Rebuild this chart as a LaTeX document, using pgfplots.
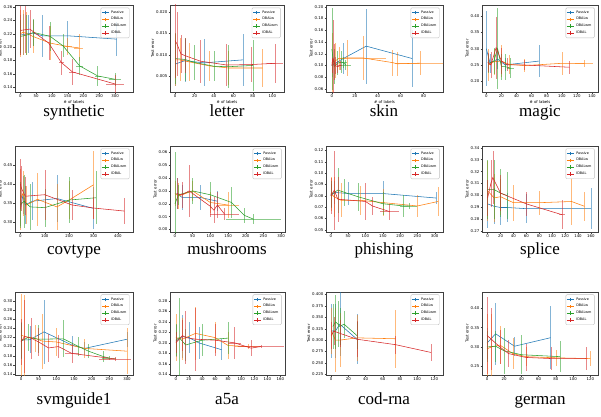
\documentclass[border=0pt]{standalone}
\usepackage{pgfplots}
\pgfplotsset{compat=1.18}
\usepackage{fontspec}
\setmainfont{Liberation Serif}
\newfontfamily\dv{DejaVu Sans}
\newcommand\tickf{\dv\fontsize{3.9}{4.5}\selectfont}
\newcommand\legf{\dv\fontsize{3.4}{4}\selectfont}
\newcommand\capf{\fontsize{17}{20}\selectfont}
\definecolor{c1}{HTML}{1F77B4}
\definecolor{c2}{HTML}{FF7F0E}
\definecolor{c3}{HTML}{2CA02C}
\definecolor{c4}{HTML}{D62728}
\pgfplotsset{
  sub/.style={
    scale only axis,
    anchor=south west,
    scaled ticks=false,
    axis line style={black!75, line width=0.35pt},
    tick align=outside, tick pos=left,
    major tick length=1.5pt,
    every tick/.style={black!75, line width=0.3pt},
    tick label style={font=\tickf},
    /pgf/number format/assume math mode=true,
    xticklabel style={inner sep=1pt},
    yticklabel style={inner sep=1pt},
    label style={font=\tickf},
    ylabel={Test error},
    ylabel style={yshift=-2.5pt},
    xlabel={\# of labels},
    xlabel style={yshift=2pt},
    legend style={at={(0.97,0.97)}, anchor=north east, font=\legf,
      draw=black!25, rounded corners=1pt, inner sep=0.8pt, row sep=-1.2pt,
      fill=white, fill opacity=0.8, text opacity=1},
    legend cell align=left,
    legend image code/.code={\draw[##1] (0pt,0pt) -- (7pt,0pt); \draw[##1] (3.5pt,-1.8pt) -- (3.5pt,1.8pt);},
  },
  nox/.style={xlabel={}},
  ser/.style={color=#1, line width=0.55pt, mark=none,
    error bars/.cd, y dir=both, y explicit, x dir=both, x explicit, error mark=none,
    error bar style={line width=0.45pt, opacity=0.55}},
}
\begin{document}
\begin{tikzpicture}
\path[use as bounding box] (0pt,0pt) rectangle (601pt,416pt);
% ---------------- synthetic
\begin{axis}[sub, at={(15pt,324pt)}, width=118pt, height=87pt,
  xmin=-17, xmax=357, ymin=0.133, ymax=0.263,
  xtick={0,50,...,300},
  ytick={0.14,0.16,0.18,0.20,0.22,0.24,0.26}, yticklabels={0.14,0.16,0.18,0.20,0.22,0.24,0.26}]
\addplot[ser=c1] coordinates {(0,0.218) +- (0,0.03) (10,0.219) +- (0,0.03) (25,0.220) +- (0,0.028) (40,0.221) +- (0,0.02) (70,0.217) +- (0,0.031) (150,0.217) +- (0,0.022) (305,0.212) +- (0,0.025)};
\addplot[ser=c2] coordinates {(0,0.220) +- (0,0.035) (8,0.222) +- (0,0.033) (18,0.221) +- (0,0.032) (40,0.216) +- (0,0.025) (95,0.206) +- (0,0.025) (150,0.201) +- (15,0.012) (185,0.199) +- (15,0.02)};
\addplot[ser=c3] coordinates {(0,0.216) +- (0,0.025) (20,0.218) +- (0,0.03) (42,0.222) +- (0,0.02) (95,0.216) +- (0,0.022) (135,0.202) +- (0,0.017) (188,0.172) +- (12,0.013) (245,0.157) +- (10,0.015) (300,0.152) +- (20,0.01)};
\addplot[ser=c4] coordinates {(0,0.225) +- (0,0.036) (15,0.226) +- (0,0.035) (30,0.227) +- (0,0.028) (90,0.206) +- (0,0.025) (130,0.177) +- (8,0.018) (165,0.163) +- (10,0.02) (300,0.145) +- (30,0.013)};
\legend{Passive,DBALw,DBALwm,IDBAL}
\end{axis}
% ---------------- letter
\begin{axis}[sub, at={(170pt,324pt)}, width=114pt, height=87pt,
  xmin=-5.2, xmax=112, ymin=0.0013, ymax=0.0216,
  xtick={0,20,...,100},
  ytick={0.005,0.010,0.015,0.020}, yticklabels={0.005,0.010,0.015,0.020}]
\addplot[ser=c1] coordinates {(0,0.0078) +- (0,0.005) (10,0.0086) +- (0,0.005) (30,0.0081) +- (0,0.0055) (70,0.0088) +- (0,0.006)};
\addplot[ser=c2] coordinates {(0,0.0088) +- (0,0.006) (5,0.0088) +- (0,0.005) (15,0.0083) +- (0,0.0045) (35,0.0074) +- (0,0.0035) (55,0.0069) +- (0,0.004) (90,0.0069) +- (0,0.0045)};
\addplot[ser=c3] coordinates {(0,0.0091) +- (0,0.006) (10,0.0089) +- (0,0.005) (20,0.0082) +- (0,0.004) (40,0.0073) +- (0,0.0035) (55,0.0072) +- (0,0.005) (80,0.0075) +- (0,0.006)};
\addplot[ser=c4] coordinates {(0,0.0133) +- (0,0.0088) (2,0.0125) +- (0,0.0075) (6,0.0102) +- (0,0.0045) (10,0.0098) +- (0,0.004) (26,0.0085) +- (0,0.005) (53,0.0076) +- (0,0.005) (78,0.0077) +- (0,0.004) (103,0.0080) +- (8,0.0046)};
\legend{Passive,DBALw,DBALwm,IDBAL}
\end{axis}
% ---------------- skin
\begin{axis}[sub, at={(326pt,324pt)}, width=117pt, height=87pt,
  xmin=-5.1, xmax=97, ymin=0.055, ymax=0.203,
  xtick={0,20,...,80},
  ytick={0.06,0.08,0.10,0.12,0.14,0.16,0.18,0.20}, yticklabels={0.06,0.08,0.10,0.12,0.14,0.16,0.18,0.20}]
\addplot[ser=c1] coordinates {(0,0.100) +- (0,0.02) (10,0.112) +- (0,0.027) (30,0.133) +- (0,0.064) (70,0.112) +- (0,0.048)};
\addplot[ser=c2] coordinates {(0,0.105) +- (0,0.05) (3,0.108) +- (0,0.03) (6,0.112) +- (0,0.02) (13,0.113) +- (0,0.03) (27,0.113) +- (20,0.038) (53,0.105) +- (0,0.022) (57,0.103) +- (0,0.02) (77,0.104) +- (22,0.02)};
\addplot[ser=c3] coordinates {(0,0.128) +- (0,0.07) (2,0.098) +- (0,0.03) (5,0.104) +- (0,0.02) (8,0.106) +- (0,0.018) (10,0.105) +- (3,0.01) (12,0.101) +- (5,0.008)};
\addplot[ser=c4] coordinates {(0,0.100) +- (0,0.012) (1,0.112) +- (0,0.065) (2,0.106) +- (0,0.03) (3,0.100) +- (0,0.015) (5,0.098) +- (0,0.01) (7,0.100) +- (2,0.008)};
\legend{Passive,DBALw,DBALwm,IDBAL}
\end{axis}
% ---------------- magic
\begin{axis}[sub, at={(482pt,324pt)}, width=116pt, height=87pt,
  xmin=-5.7, xmax=148, ymin=0.167, ymax=0.434,
  xtick={0,20,...,140},
  ytick={0.20,0.25,0.30,0.35,0.40}, yticklabels={0.20,0.25,0.30,0.35,0.40}]
\addplot[ser=c1] coordinates {(0,0.300) +- (0,0.116) (5,0.255) +- (0,0.03) (15,0.268) +- (0,0.03) (25,0.250) +- (0,0.02) (70,0.262) +- (0,0.05)};
\addplot[ser=c2] coordinates {(3,0.250) +- (0,0.05) (10,0.260) +- (0,0.04) (20,0.262) +- (0,0.05) (30,0.252) +- (0,0.03) (50,0.248) +- (0,0.02) (100,0.255) +- (0,0.035) (130,0.255) +- (12,0.01)};
\addplot[ser=c3] coordinates {(3,0.255) +- (0,0.03) (10,0.262) +- (0,0.04) (15,0.300) +- (0,0.125) (20,0.245) +- (0,0.04) (25,0.245) +- (0,0.04) (32,0.240) +- (5,0.03)};
\addplot[ser=c4] coordinates {(2,0.258) +- (0,0.03) (6,0.250) +- (0,0.04) (13,0.303) +- (0,0.095) (20,0.262) +- (0,0.04) (28,0.250) +- (0,0.02) (50,0.250) +- (0,0.015) (110,0.243) +- (0,0.02)};
\legend{Passive,DBALw,DBALwm,IDBAL}
\end{axis}
% ---------------- covtype
\begin{axis}[sub, nox, at={(15pt,184pt)}, width=118pt, height=86pt,
  xmin=-22, xmax=462, ymin=0.274, ymax=0.50,
  xtick={0,100,...,400},
  ytick={0.30,0.35,0.40,0.45}, yticklabels={0.30,0.35,0.40,0.45}]
\addplot[ser=c1] coordinates {(0,0.330) +- (0,0.04) (10,0.370) +- (0,0.05) (20,0.345) +- (0,0.05) (50,0.355) +- (0,0.05) (150,0.362) +- (0,0.062) (300,0.336) +- (0,0.055)};
\addplot[ser=c2] coordinates {(0,0.360) +- (0,0.08) (10,0.375) +- (0,0.06) (25,0.345) +- (0,0.05) (70,0.360) +- (0,0.07) (150,0.340) +- (0,0.06) (200,0.358) +- (0,0.05) (300,0.398) +- (0,0.09)};
\addplot[ser=c3] coordinates {(0,0.345) +- (0,0.06) (15,0.355) +- (0,0.07) (40,0.340) +- (0,0.06) (100,0.338) +- (0,0.05) (200,0.358) +- (0,0.06) (310,0.364) +- (0,0.07)};
\addplot[ser=c4] coordinates {(0,0.400) +- (0,0.065) (5,0.388) +- (0,0.06) (20,0.368) +- (0,0.05) (100,0.372) +- (0,0.066) (212,0.345) +- (0,0.04) (300,0.337) +- (0,0.03) (427,0.329) +- (0,0.035)};
\legend{Passive,DBALw,DBALwm,IDBAL}
\end{axis}
% ---------------- mushrooms
\begin{axis}[sub, nox, at={(170pt,184pt)}, width=115pt, height=86pt,
  xmin=-14, xmax=311, ymin=-0.002, ymax=0.065,
  xtick={0,50,...,300},
  ytick={0,0.01,0.02,0.03,0.04,0.05,0.06}, yticklabels={0.00,0.01,0.02,0.03,0.04,0.05,0.06}]
\addplot[ser=c1] coordinates {(5,0.028) +- (0,0.012) (20,0.025) +- (0,0.01) (70,0.025) +- (0,0.01) (120,0.022) +- (0,0.008)};
\addplot[ser=c2] coordinates {(0,0.028) +- (0,0.01) (10,0.026) +- (0,0.01) (50,0.030) +- (0,0.008) (100,0.021) +- (0,0.008) (150,0.019) +- (30,0.01)};
\addplot[ser=c3] coordinates {(0,0.020) +- (0,0.04) (10,0.027) +- (0,0.008) (50,0.030) +- (0,0.01) (100,0.027) +- (0,0.01) (160,0.021) +- (0,0.012) (196,0.011) +- (0,0.006) (222,0.008) +- (78,0.004)};
\addplot[ser=c4] coordinates {(5,0.028) +- (0,0.012) (20,0.027) +- (0,0.01) (40,0.030) +- (0,0.02) (100,0.018) +- (0,0.008) (110,0.015) +- (0,0.01) (120,0.019) +- (0,0.01) (140,0.012) +- (40,0.005)};
\legend{Passive,DBALw,DBALwm,IDBAL}
\end{axis}
% ---------------- phishing
\begin{axis}[sub, nox, at={(326pt,184pt)}, width=117pt, height=86pt,
  xmin=-14, xmax=324, ymin=0.048, ymax=0.124,
  xtick={0,50,...,300},
  ytick={0.05,0.06,0.07,0.08,0.09,0.10,0.11,0.12}, yticklabels={0.05,0.06,0.07,0.08,0.09,0.10,0.11,0.12}]
\addplot[ser=c1] coordinates {(0,0.080) +- (0,0.01) (10,0.083) +- (0,0.01) (50,0.082) +- (0,0.01) (150,0.082) +- (0,0.011) (305,0.078) +- (0,0.005)};
\addplot[ser=c2] coordinates {(0,0.082) +- (0,0.015) (10,0.079) +- (0,0.018) (30,0.076) +- (0,0.015) (85,0.076) +- (0,0.013) (150,0.074) +- (0,0.012) (250,0.071) +- (0,0.01) (310,0.075) +- (0,0.013)};
\addplot[ser=c3] coordinates {(0,0.081) +- (0,0.012) (20,0.085) +- (0,0.02) (40,0.083) +- (0,0.012) (80,0.079) +- (0,0.012) (150,0.073) +- (0,0.01) (210,0.071) +- (0,0.01) (225,0.071) +- (25,0.003)};
\addplot[ser=c4] coordinates {(0,0.080) +- (0,0.016) (10,0.085) +- (0,0.035) (20,0.077) +- (0,0.02) (100,0.075) +- (0,0.016) (120,0.071) +- (0,0.008) (170,0.066) +- (28,0.007)};
\legend{Passive,DBALw,DBALwm,IDBAL}
\end{axis}
% ---------------- splice
\begin{axis}[sub, nox, at={(482pt,184pt)}, width=116pt, height=86pt,
  xmin=-8.7, xmax=171, ymin=0.2695, ymax=0.3414,
  xtick={0,20,...,160},
  ytick={0.27,0.28,0.29,0.30,0.31,0.32,0.33,0.34}, yticklabels={0.27,0.28,0.29,0.30,0.31,0.32,0.33,0.34}]
\addplot[ser=c1] coordinates {(0,0.293) +- (0,0.02) (10,0.291) +- (0,0.015) (20,0.290) +- (0,0.015) (30,0.290) +- (0,0.012) (60,0.289) +- (0,0.012) (160,0.289) +- (0,0.017)};
\addplot[ser=c2] coordinates {(0,0.304) +- (0,0.025) (10,0.298) +- (0,0.02) (20,0.299) +- (0,0.015) (40,0.294) +- (0,0.015) (80,0.294) +- (0,0.01) (130,0.295) +- (0,0.02) (150,0.291) +- (0,0.012)};
\addplot[ser=c3] coordinates {(0,0.305) +- (0,0.025) (10,0.305) +- (0,0.025) (20,0.302) +- (0,0.02) (30,0.300) +- (0,0.02)};
\addplot[ser=c4] coordinates {(0,0.298) +- (0,0.015) (5,0.310) +- (0,0.02) (8,0.315) +- (0,0.022) (20,0.302) +- (0,0.015) (60,0.293) +- (0,0.01) (115,0.284) +- (5,0.012)};
\legend{Passive,DBALw,DBALwm,IDBAL}
\end{axis}
% ---------------- svmguide1
\begin{axis}[sub, nox, at={(15pt,41pt)}, width=118pt, height=83pt,
  xmin=-17, xmax=317, ymin=0.138, ymax=0.319,
  xtick={0,50,...,300},
  ytick={0.14,0.16,0.18,0.20,0.22,0.24,0.26,0.28,0.30}, yticklabels={0.14,0.16,0.18,0.20,0.22,0.24,0.26,0.28,0.30}]
\addplot[ser=c1] coordinates {(0,0.214) +- (0,0.04) (25,0.215) +- (0,0.03) (65,0.232) +- (0,0.07) (145,0.203) +- (0,0.02) (180,0.196) +- (0,0.015) (300,0.216) +- (0,0.016)};
\addplot[ser=c2] coordinates {(0,0.225) +- (0,0.09) (10,0.222) +- (0,0.09) (40,0.218) +- (0,0.03) (60,0.212) +- (0,0.06) (100,0.210) +- (0,0.03) (180,0.196) +- (0,0.02) (300,0.190) +- (0,0.05)};
\addplot[ser=c3] coordinates {(0,0.212) +- (0,0.04) (20,0.220) +- (0,0.03) (50,0.216) +- (0,0.03) (120,0.217) +- (0,0.04) (163,0.200) +- (0,0.02) (191,0.190) +- (0,0.015) (234,0.178) +- (0,0.012) (250,0.175) +- (20,0.005)};
\addplot[ser=c4] coordinates {(0,0.210) +- (0,0.05) (10,0.222) +- (0,0.08) (30,0.218) +- (0,0.045) (50,0.210) +- (0,0.03) (78,0.197) +- (0,0.03) (106,0.200) +- (0,0.025) (144,0.185) +- (20,0.02) (267,0.173) +- (45,0.005)};
\legend{Passive,DBALw,DBALwm,IDBAL}
\end{axis}
% ---------------- a5a
\begin{axis}[sub, nox, at={(170pt,41pt)}, width=115pt, height=83pt,
  xmin=-9, xmax=167, ymin=0.139, ymax=0.2965,
  xtick={0,20,...,160},
  ytick={0.14,0.16,0.18,0.20,0.22,0.24,0.26,0.28}, yticklabels={0.14,0.16,0.18,0.20,0.22,0.24,0.26,0.28}]
\addplot[ser=c1] coordinates {(0,0.203) +- (0,0.03) (10,0.212) +- (0,0.04) (20,0.210) +- (0,0.03) (35,0.200) +- (0,0.03) (70,0.187) +- (0,0.02)};
\addplot[ser=c2] coordinates {(0,0.210) +- (0,0.045) (10,0.207) +- (0,0.04) (30,0.218) +- (0,0.05) (60,0.210) +- (0,0.03) (80,0.195) +- (0,0.025) (110,0.193) +- (20,0.005)};
\addplot[ser=c3] coordinates {(0,0.205) +- (0,0.03) (5,0.210) +- (0,0.075) (15,0.196) +- (0,0.03) (40,0.205) +- (0,0.03) (80,0.209) +- (0,0.03)};
\addplot[ser=c4] coordinates {(0,0.200) +- (0,0.02) (10,0.214) +- (0,0.03) (15,0.210) +- (0,0.05) (30,0.207) +- (0,0.06) (60,0.205) +- (0,0.03) (90,0.200) +- (10,0.03) (115,0.190) +- (0,0.015) (130,0.193) +- (35,0.003)};
\legend{Passive,DBALw,DBALwm,IDBAL}
\end{axis}
% ---------------- cod-rna
\begin{axis}[sub, nox, at={(326pt,41pt)}, width=117pt, height=83pt,
  xmin=-6, xmax=130, ymin=0.2235, ymax=0.4056,
  xtick={0,20,...,120},
  ytick={0.225,0.250,0.275,0.300,0.325,0.350,0.375,0.400}, yticklabels={0.225,0.250,0.275,0.300,0.325,0.350,0.375,0.400}]
\addplot[ser=c1] coordinates {(0,0.320) +- (0,0.06) (5,0.320) +- (0,0.06) (10,0.335) +- (0,0.07) (30,0.302) +- (0,0.055)};
\addplot[ser=c2] coordinates {(0,0.320) +- (0,0.05) (5,0.300) +- (0,0.07) (10,0.300) +- (0,0.06) (30,0.305) +- (0,0.05) (75,0.303) +- (0,0.064)};
\addplot[ser=c3] coordinates {(2,0.330) +- (0,0.05) (5,0.340) +- (0,0.06) (8,0.335) +- (0,0.05) (10,0.330) +- (0,0.04) (15,0.335) +- (0,0.03) (30,0.310) +- (0,0.03)};
\addplot[ser=c4] coordinates {(0,0.310) +- (0,0.03) (3,0.320) +- (0,0.03) (10,0.315) +- (0,0.03) (30,0.302) +- (0,0.04) (75,0.290) +- (0,0.02) (116,0.273) +- (0,0.018)};
\legend{Passive,DBALw,DBALwm,IDBAL}
\end{axis}
% ---------------- german
\begin{axis}[sub, nox, at={(482pt,41pt)}, width=116pt, height=83pt,
  xmin=-5.8, xmax=129, ymin=0.2276, ymax=0.442,
  xtick={0,20,...,120},
  ytick={0.25,0.30,0.35,0.40}, yticklabels={0.25,0.30,0.35,0.40}]
\addplot[ser=c1] coordinates {(0,0.310) +- (0,0.04) (10,0.334) +- (0,0.08) (32,0.302) +- (0,0.025) (74,0.324) +- (0,0.082)};
\addplot[ser=c2] coordinates {(0,0.295) +- (0,0.09) (5,0.300) +- (0,0.085) (15,0.305) +- (0,0.05) (30,0.283) +- (0,0.04) (45,0.275) +- (0,0.025) (80,0.272) +- (0,0.02) (120,0.270) +- (0,0.02)};
\addplot[ser=c3] coordinates {(0,0.300) +- (0,0.04) (10,0.302) +- (0,0.04) (20,0.290) +- (0,0.06) (40,0.280) +- (0,0.05) (85,0.275) +- (0,0.04)};
\addplot[ser=c4] coordinates {(0,0.330) +- (0,0.1) (5,0.320) +- (0,0.08) (15,0.300) +- (0,0.045) (25,0.283) +- (0,0.035) (45,0.273) +- (0,0.035) (75,0.270) +- (0,0.03) (115,0.270) +- (0,0.03)};
\legend{Passive,DBALw,DBALwm,IDBAL}
\end{axis}
% ---------------- captions
\node[anchor=base, font=\capf] at (74pt,300pt) {synthetic};
\node[anchor=base, font=\capf] at (227pt,300pt) {letter};
\node[anchor=base, font=\capf] at (384pt,300pt) {skin};
\node[anchor=base, font=\capf] at (540pt,300pt) {magic};
\node[anchor=base, font=\capf] at (74pt,162pt) {covtype};
\node[anchor=base, font=\capf] at (227pt,162pt) {mushrooms};
\node[anchor=base, font=\capf] at (384pt,162pt) {phishing};
\node[anchor=base, font=\capf] at (540pt,162pt) {splice};
\node[anchor=base, font=\capf] at (74pt,12pt) {svmguide1};
\node[anchor=base, font=\capf] at (227pt,12pt) {a5a};
\node[anchor=base, font=\capf] at (384pt,12pt) {cod-rna};
\node[anchor=base, font=\capf] at (540pt,12pt) {german};
\end{tikzpicture}
\end{document}
